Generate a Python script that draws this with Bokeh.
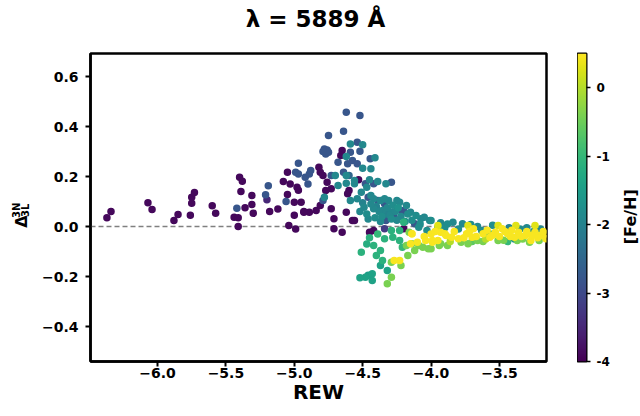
import numpy as np
from bokeh.plotting import figure
from bokeh.layouts import row, column
from bokeh.models import (ColumnDataSource, LinearColorMapper, FixedTicker, Range1d,
                          CustomJSTickFormatter, Span)
from bokeh.palettes import Viridis256
from bokeh.transform import transform
from bokeh.core.properties import value
from bokeh.embed import file_html
from bokeh.resources import INLINE

# ---------------- data (REW, Delta_3L^3N, [Fe/H]) ----------------
rew_a = [-6.37, -6.34, -6.07, -6.04, -5.88, -5.85, -5.76, -5.75, -5.75, -5.73,
         -5.60, -5.575, -5.42, -5.44, -5.41, -5.41, -5.40, -5.38, -5.39, -5.36,
         -5.31, -5.31, -5.30, -5.19, -5.21, -5.20, -5.18, -5.12, -5.06, -5.08,
         -5.05, -5.04]
d_a = [0.035, 0.060, 0.095, 0.068, 0.024, 0.048, 0.045, 0.093, 0.117, 0.136,
       0.083, 0.053, 0.073, 0.037, 0.035, 0.000, 0.197, 0.181, 0.140, 0.075,
       0.124, 0.088, 0.053, 0.163, 0.127, 0.107, 0.060, 0.070, 0.100, 0.180,
       0.217, 0.004]
feh_a = [-3.9, -3.9, -3.9, -3.9, -3.9, -3.9, -3.9, -3.9, -3.9, -3.9,
         -3.9, -3.9, -2.8, -3.9, -3.9, -3.9, -3.9, -3.9, -3.9, -3.9,
         -3.9, -3.9, -3.9, -2.8, -2.8, -3.5, -3.9, -3.9, -2.8, -3.9,
         -3.9, -3.9]

rew_b = [-4.97, -4.99, -4.97, -4.92, -4.89, -4.90, -5.03, -4.98, -4.97, -5.05,
         -5.00, -4.95, -5.00, -4.93, -4.89, -4.99, -4.88, -4.84, -4.93]
d_b = [0.253, 0.217, 0.210, 0.197, 0.210, 0.170, 0.170, 0.157, 0.145, 0.128,
       0.097, 0.097, 0.045, 0.057, 0.057, -0.010, 0.224, 0.064, 0.060]
feh_b = [-2.8, -2.8, -2.8, -2.8, -2.8, -2.8, -3.9, -3.9, -3.9, -3.9,
         -3.9, -3.9, -3.9, -3.9, -3.9, -3.9, -2.8, -3.9, -3.9]

rew_c = [-4.62, -4.52, -4.75, -4.64, -4.78, -4.76, -4.77, -4.75, -4.79, -4.65,
         -4.66, -4.59, -4.54, -4.50, -4.59, -4.52, -4.62, -4.68, -4.61, -4.575,
         -4.54, -4.445, -4.41, -4.50, -4.44, -4.82, -4.81, -4.79, -4.73, -4.70,
         -4.64, -4.60, -4.53, -4.56, -4.62, -4.68, -4.76, -4.73, -4.77]
d_c = [0.457, 0.444, 0.364, 0.381, 0.310, 0.306, 0.290, 0.297, 0.300, 0.304,
       0.284, 0.330, 0.337, 0.327, 0.297, 0.301, 0.280, 0.257, 0.251, 0.264,
       0.251, 0.271, 0.275, 0.233, 0.231, 0.237, 0.217, 0.204, 0.204, 0.204,
       0.217, 0.204, 0.187, 0.171, 0.173, 0.164, 0.177, 0.151, 0.144]
feh_c = [-2.8, -2.8, -2.8, -2.8, -2.8, -2.8, -2.8, -2.8, -2.8, -3.9,
         -3.9, -1.9, -2.8, -1.9, -2.8, -2.8, -1.9, -2.8, -2.8, -2.8,
         -2.8, -2.8, -1.9, -1.9, -1.9, -3.9, -3.9, -3.9, -2.8, -1.9,
         -2.8, -2.5, -3.9, -1.9, -1.9, -1.9, -3.9, -3.9, -3.9]

rew_d = [-4.78, -4.79, -4.81, -4.73, -4.60, -4.59, -4.51, -4.47, -4.45, -4.39,
         -4.54, -4.46, -4.42, -4.33, -4.29, -4.49, -4.37, -4.34, -4.31, -4.25,
         -4.71, -4.575, -4.71, -4.62, -4.56, -4.48, -4.42, -4.61, -4.44, -4.39,
         -4.34, -4.23, -4.42, -4.355, -4.29, -4.21, -4.15, -4.27, -4.33, -4.075,
         -4.01, -4.56, -4.62, -4.42, -4.45, -4.34, -4.65]
d_d = [0.117, 0.104, 0.084, 0.071, 0.144, 0.104, 0.137, 0.157, 0.187, 0.180,
       0.111, 0.117, 0.111, 0.171, 0.177, 0.077, 0.104, 0.091, 0.104, 0.104,
       0.031, 0.024, -0.009, 0.204, 0.184, 0.171, 0.171, 0.131, 0.124, 0.104,
       0.111, 0.097, 0.071, 0.064, 0.057, 0.057, 0.057, 0.037, 0.024, 0.031,
       0.024, 0.024, 0.057, -0.016, -0.023, -0.009, -0.023]
feh_d = [-1.9, -2.8, -3.9, -3.9, -3.9, -1.9, -1.9, -1.9, -1.9, -1.9,
         -1.9, -2.8, -1.9, -1.9, -2.8, -1.9, -1.9, -2.8, -1.9, -1.9,
         -3.9, -3.9, -3.9, -1.9, -1.9, -2.8, -2.8, -3.9, -1.9, -2.8,
         -1.9, -1.9, -1.9, -1.9, -1.9, -2.8, -1.9, -2.8, -2.8, -1.9,
         -1.9, -3.9, -3.9, -3.9, -3.9, -3.2, -3.9]

rew_e = [-4.52, -4.47, -4.44, -4.40, -4.38, -4.36, -4.32, -4.30, -4.28, -4.26,
         -4.24, -4.22, -4.18, -4.17, -4.11, -4.05, -4.00, -3.84, -3.77, -3.71,
         -4.20, -4.12, -4.20, -3.93, -3.88, -3.66, -3.55, -3.43, -3.30, -3.20,
         -4.50, -4.46, -4.41, -4.37, -4.33, -4.29, -4.25, -4.19, -4.14, -4.08]
d_e = [0.060, 0.050, 0.090, 0.080, 0.060, 0.040, 0.075, 0.045, 0.085, 0.060,
       0.075, 0.040, 0.084, 0.050, 0.044, 0.037, 0.024, 0.017, 0.011, 0.008,
       0.064, 0.011, -0.009, 0.015, 0.010, 0.000, 0.005, -0.005, -0.005, -0.010,
       0.095, 0.030, 0.035, 0.020, 0.050, 0.030, 0.025, 0.020, 0.025, 0.010]
feh_e = [-1.9, -1.8, -1.9, -2.0, -1.9, -1.8, -1.9, -1.9, -1.8, -1.9,
         -1.7, -1.9, -1.9, -1.8, -1.8, -1.9, -1.8, -1.9, -1.9, -1.8,
         -2.8, -2.8, -3.9, -1.9, -1.8, -1.9, -1.8, -2.0, -1.9, -1.9,
         -2.0, -1.9, -1.8, -1.9, -2.0, -1.8, -1.9, -1.7, -1.8, -1.8]

rew_f = [-4.20, -4.29, -4.23, -4.16, -4.14, -4.09, -4.03, -3.95, -3.93, -3.89,
         -4.34, -4.28, -4.23, -4.21, -4.15, -4.10, -4.04, -3.99, -4.06, -4.12,
         -4.00, -3.94, -4.17, -4.23, -4.27, -4.29, -4.22, -4.29, -4.32, -4.51,
         -4.42, -4.37, -4.40, -4.355, -4.37, -4.32, -4.43, -4.48, -4.43, -4.46,
         -4.52, -4.45, -4.39, -4.47]
d_f = [0.017, -0.016, -0.016, -0.023, -0.029, -0.003, -0.016, -0.003, -0.023, -0.036,
       -0.049, -0.043, -0.056, -0.083, -0.069, -0.063, -0.056, -0.063, -0.083, -0.096,
       -0.089, -0.076, -0.116, -0.136, -0.136, -0.143, -0.156, -0.203, -0.229, -0.103,
       -0.076, -0.096, -0.116, -0.136, -0.156, -0.176, -0.189, -0.203, -0.216, -0.195,
       -0.205, -0.045, -0.030, -0.070]
feh_f = [-1.1, -1.1, -1.1, -0.4, 0.45, -1.8, -1.8, -1.1, 0.45, 0.45,
         -1.1, -1.1, -1.1, -1.0, 0.45, 0.45, 0.45, 0.45, -0.4, -0.4,
         -0.4, -0.4, -0.4, 0.45, 0.45, -0.4, -0.4, -0.4, -0.4, -1.1,
         -1.1, -1.1, -1.1, -1.1, -1.4, -1.4, -1.4, -1.4, -1.4, -1.5,
         -1.4, -1.1, -1.0, -1.2]

rew_g = [-4.14, -4.14, -4.18, -4.09, -4.02, -3.99, -3.95, -3.90, -3.85, -3.80,
         -3.74, -3.70, -3.69, -3.62, -3.57, -3.53, -3.48, -3.44, -3.39, -3.36,
         -3.31, -3.27, -3.24, -3.20, -3.16, -3.16,
         -3.93, -3.88, -3.78, -3.73, -3.66, -3.51, -3.37, -3.28, -3.21,
         -3.95, -3.73, -3.51, -3.38, -3.24,
         -4.05, -4.00, -3.97, -3.86, -3.83, -3.76, -3.72, -3.67, -3.60, -3.59,
         -3.55, -3.50, -3.46, -3.42, -3.41, -3.34, -3.30, -3.26, -3.22, -3.18,
         -3.47, -3.62, -3.33, -3.70, -3.44]
d_g = [-0.029, -0.069, -0.076, -0.076, -0.089, -0.056, -0.056, -0.029, -0.043, -0.049,
       -0.029, -0.043, -0.009, -0.029, -0.043, -0.023, -0.009, -0.029, -0.043, -0.023,
       -0.036, -0.056, -0.023, -0.036, -0.029, -0.049,
       -0.069, -0.076, -0.063, -0.069, -0.056, -0.056, -0.056, -0.063, -0.056,
       0.004, 0.004, 0.004, 0.004, 0.004,
       -0.040, -0.030, -0.020, -0.060, -0.020, -0.045, -0.020, -0.040, -0.050, -0.015,
       -0.035, -0.040, -0.020, -0.040, -0.015, -0.040, -0.020, -0.035, -0.045, -0.020,
       -0.055, -0.060, -0.050, -0.060, -0.060]
feh_g = [0.45, -0.4, -0.4, -0.4, -0.4, 0.45, 0.45, 0.45, 0.45, 0.45,
         0.45, 0.45, 0.45, 0.45, 0.45, 0.45, 0.45, 0.45, 0.45, 0.45,
         0.45, 0.45, 0.45, 0.45, 0.45, 0.45,
         -0.4, -0.4, -0.4, -0.4, -0.4, -0.4, -0.4, -0.4, -0.4,
         0.3, 0.3, 0.3, 0.3, 0.3,
         0.45, 0.45, 0.45, 0.0, 0.45, 0.45, 0.45, 0.45, 0.0, 0.45,
         0.45, 0.45, 0.45, 0.45, 0.45, 0.45, 0.45, 0.45, 0.45, 0.45,
         -0.4, -0.4, -0.4, -0.6, -1.0]

rew_h = [-3.63, -3.57, -3.39, -3.35, -3.25, -3.80, -3.90]
d_h = [-0.016, -0.030, -0.050, -0.010, -0.020, -0.010, -0.005]
feh_h = [-1.8, -1.1, -1.8, -1.8, -1.8, -1.8, -1.8]

x_ticks = [-6.0, -5.5, -5.0, -4.5, -4.0, -3.5]
y_ticks = [-0.4, -0.2, 0.0, 0.2, 0.4, 0.6]
cb_ticks = [-4, -3, -2, -1, 0]
feh_low, feh_high = -4.0, 0.5

# ---------------- assemble ----------------
rew = np.array(rew_a + rew_b + rew_c + rew_d + rew_e + rew_f + rew_g + rew_h)
dlt = np.array(d_a + d_b + d_c + d_d + d_e + d_f + d_g + d_h)
feh = np.array(feh_a + feh_b + feh_c + feh_d + feh_e + feh_f + feh_g + feh_h)
order = np.argsort(feh, kind="stable")
src = ColumnDataSource(dict(rew=rew[order], dlt=dlt[order], feh=feh[order]))

FONT = "DejaVu Sans"
W = 639          # total page width
H = 415          # total page height
TOP = 30         # height of the title strip
HR = H - TOP     # height of the row below it
mapper = LinearColorMapper(palette=Viridis256, low=feh_low, high=feh_high)


def strip(width, height):
    f = figure(width=width, height=height, x_range=Range1d(0, width),
               y_range=Range1d(0, height), output_backend="svg", toolbar_location=None,
               min_border=0, x_axis_type=None, y_axis_type=None)
    f.outline_line_color = None
    f.xgrid.visible = False
    f.ygrid.visible = False
    return f


def words(f, x, y, txt, size, angle=0.0):
    f.text(x=[x], y=[y], text=[txt], angle=angle, text_font=value(FONT),
           text_font_size=size, text_font_style="bold", text_color="black",
           text_align="center", text_baseline="middle")


# ---------------- title strip ----------------
ft = strip(W, TOP)
words(ft, 315, TOP - 18, "\u03bb = 5889 \u00c5", "23px")

# ---------------- main scatter ----------------
p = figure(frame_width=456, frame_height=308, x_range=(-6.49, -3.156), y_range=(-0.54, 0.692),
           output_backend="svg", toolbar_location=None,
           min_border_left=52, min_border_right=31, min_border_top=53 - TOP,
           min_border_bottom=H - 361)
p.xgrid.visible = False
p.ygrid.visible = False
p.outline_line_color = "black"
p.outline_line_width = 2.5

fmt = CustomJSTickFormatter(code="return tick.toFixed(1).replace('-', '\u2212');")
for ax in (p.xaxis[0], p.yaxis[0]):
    ax.axis_line_color = "black"
    ax.axis_line_width = 2.5
    ax.major_tick_line_color = "black"
    ax.major_tick_line_width = 2
    ax.major_tick_out = 5
    ax.major_tick_in = 0
    ax.minor_tick_line_color = None
    ax.major_label_text_font = FONT
    ax.major_label_text_font_size = "14px"
    ax.major_label_text_font_style = "bold"
    ax.major_label_text_color = "black"
    ax.formatter = fmt
p.xaxis.ticker = FixedTicker(ticks=x_ticks)
p.yaxis.ticker = FixedTicker(ticks=y_ticks)
p.xaxis.major_label_standoff = 1
p.yaxis.major_label_standoff = 7
p.xaxis.axis_label = "REW"
p.xaxis.axis_label_text_font = FONT
p.xaxis.axis_label_text_font_size = "20px"
p.xaxis.axis_label_text_font_style = "bold"
p.xaxis.axis_label_text_color = "black"
p.xaxis.axis_label_standoff = -1

zero = Span(location=0, dimension="width", line_color="#808080", line_width=1.5,
            line_dash="5 3", level="underlay")
p.add_layout(zero)

p.scatter("rew", "dlt", source=src, size=7.5, fill_color=transform("feh", mapper),
          line_color=None)

# ---------------- y label strip (left) ----------------
fl = strip(38, HR)
words(fl, 20.5, H - 240, "\u0394", "16px", np.pi / 2)
words(fl, 15.5, H - 226, "3N", "10px", np.pi / 2)
words(fl, 24.5, H - 226, "3L", "10px", np.pi / 2)

# ---------------- colour bar ----------------
fr = figure(width=44, height=HR, x_range=Range1d(0, 1), y_range=Range1d(feh_low, feh_high),
            output_backend="svg", toolbar_location=None, y_axis_location="right",
            min_border_left=0, min_border_right=35, min_border_top=52 - TOP,
            min_border_bottom=H - 366)
fr.xaxis.visible = False
fr.xgrid.visible = False
fr.ygrid.visible = False
fr.outline_line_color = "black"
fr.outline_line_width = 2
ramp = np.linspace(feh_low, feh_high, 256).reshape(256, 1)
fr.image(image=[ramp], x=0, y=feh_low, dw=1, dh=feh_high - feh_low, color_mapper=mapper)
cax = fr.yaxis[0]
cax.ticker = FixedTicker(ticks=cb_ticks)
cax.formatter = CustomJSTickFormatter(code="return tick.toFixed(0);")
cax.axis_line_color = None
cax.major_tick_line_color = "black"
cax.major_tick_line_width = 1.5
cax.major_tick_out = 4
cax.major_tick_in = 0
cax.minor_tick_line_color = None
cax.major_label_standoff = 6
cax.major_label_text_font = FONT
cax.major_label_text_font_size = "12px"
cax.major_label_text_font_style = "bold"
cax.major_label_text_color = "black"

# ---------------- colour bar label strip ----------------
frr = strip(18, HR)
words(frr, 8.5, H - 234, "[Fe/H]", "16px", np.pi / 2)

layout = column(ft, row(fl, p, fr, frr, spacing=0), spacing=0)
open("out.html", "w").write(file_html(layout, INLINE))
